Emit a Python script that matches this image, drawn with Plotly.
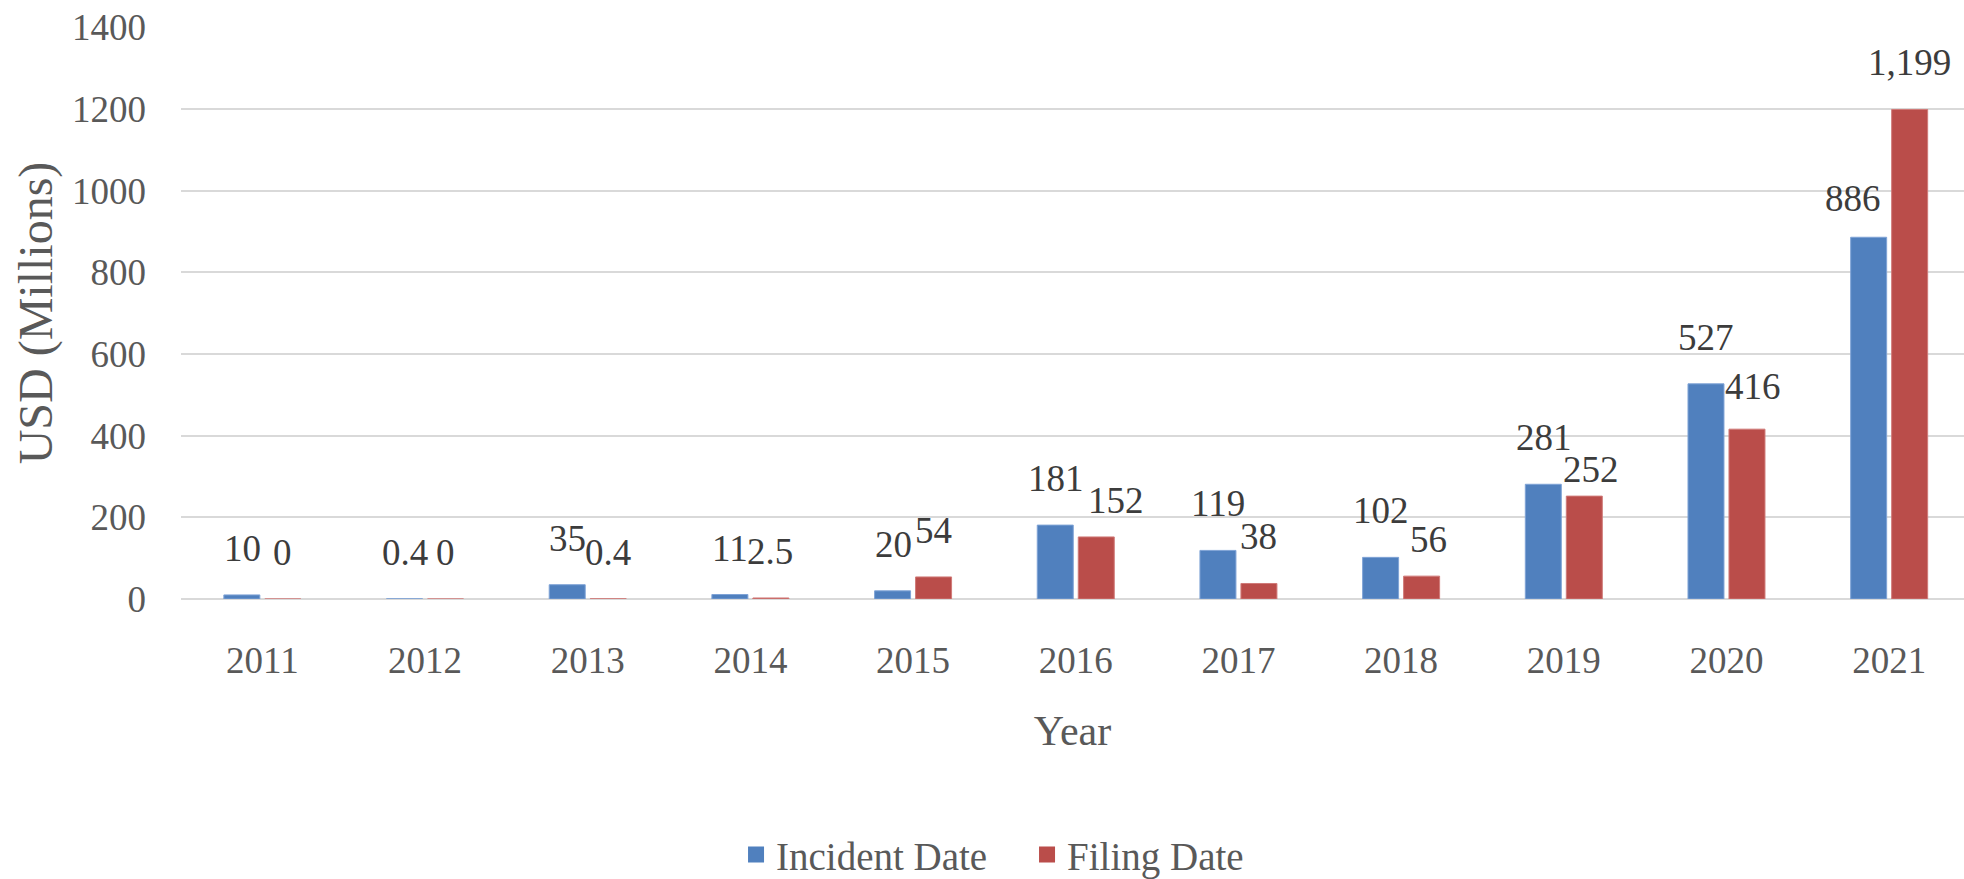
import plotly.graph_objects as go

years = ["2011", "2012", "2013", "2014", "2015", "2016", "2017", "2018", "2019", "2020", "2021"]
incident = [10, 0.4, 35, 11, 20, 181, 119, 102, 281, 527, 886]
filing = [0, 0, 0.4, 2.5, 54, 152, 38, 56, 252, 416, 1199]
y_ticks = [0, 200, 400, 600, 800, 1000, 1200, 1400]
series_names = ["Incident Date", "Filing Date"]

BLUE = "#5080BE"
RED = "#BA4D4A"
FONT = "Liberation Serif"
GREY = "#595959"
LABEL = "#3c3c3c"

# small pixel nudges of individual data labels (style only), as in the original chart
label_nudge = {
    ("filing", "2016"): (20, -10),
    ("incident", "2021"): (-16, -8),
    ("filing", "2019"): (7, -20),
    ("filing", "2018"): (7, -10),
    ("filing", "2020"): (7, -4),
}


def fmt(v):
    return f"{v:,}"


fig = go.Figure()
fig.add_trace(go.Bar(
    x=years, y=incident, name=series_names[0], showlegend=False, legendgroup="inc",
    marker=dict(color=BLUE, line=dict(color="#7FA3D6", width=1)),
))
fig.add_trace(go.Bar(
    x=years, y=filing, name=series_names[1], showlegend=False, legendgroup="fil",
    marker=dict(color=RED, line=dict(color="#D07A78", width=1)),
))
# legend keys (larger square swatches than the default bar icon)
for name, color, grp in ((series_names[0], BLUE, "inc"), (series_names[1], RED, "fil")):
    fig.add_trace(go.Scatter(
        x=[None], y=[None], mode="markers", name=name, legendgroup=grp,
        marker=dict(symbol="square", size=16, color=color), hoverinfo="skip",
    ))

annotations = []
for key, series, shift in (("incident", incident, -20), ("filing", filing, 20)):
    for i, v in enumerate(series):
        dx, dy = label_nudge.get((key, years[i]), (0, 0))
        annotations.append(dict(
            x=i, y=v, xref="x", yref="y", text=fmt(v), showarrow=False,
            xanchor="center", yanchor="bottom", xshift=shift + dx, yshift=24 + dy,
            font=dict(family=FONT, size=37, color=LABEL),
        ))

fig.update_layout(
    width=1964, height=879,
    margin=dict(l=181, r=0, t=27, b=280, autoexpand=False),
    paper_bgcolor="white", plot_bgcolor="white",
    barmode="group", bargap=0.496, bargroupgap=0.122,
    font=dict(family=FONT, color=GREY),
    annotations=annotations,
    legend=dict(
        orientation="h", x=0.4745, xanchor="center", y=-0.447, yanchor="middle",
        entrywidth=246, entrywidthmode="pixels",
        font=dict(family=FONT, size=39, color=GREY),
        bgcolor="rgba(0,0,0,0)",
    ),
    xaxis=dict(
        type="category", range=[-0.5, 10.46],
        showgrid=False, showline=False, ticks="", ticklabelstandoff=36,
        tickfont=dict(family=FONT, size=37, color=GREY),
        title=dict(text="Year", font=dict(family=FONT, size=42, color=GREY), standoff=35),
        automargin=False,
    ),
    yaxis=dict(
        range=[0, 1401], tickvals=y_ticks, ticktext=[str(t) for t in y_ticks],
        showgrid=True, gridcolor="#D9D9D9", gridwidth=2,
        zeroline=True, zerolinecolor="#D9D9D9", zerolinewidth=2,
        showline=False, ticks="", ticklabelstandoff=34,
        tickfont=dict(family=FONT, size=37, color=GREY),
        title=dict(text="USD (Millions)", font=dict(family=FONT, size=48, color=GREY), standoff=4),
        automargin=False,
    ),
)

fig.write_html(
    "out.html",
    config={"displayModeBar": False},
    post_script="document.body.style.margin='0';document.body.style.overflow='hidden';",
)
